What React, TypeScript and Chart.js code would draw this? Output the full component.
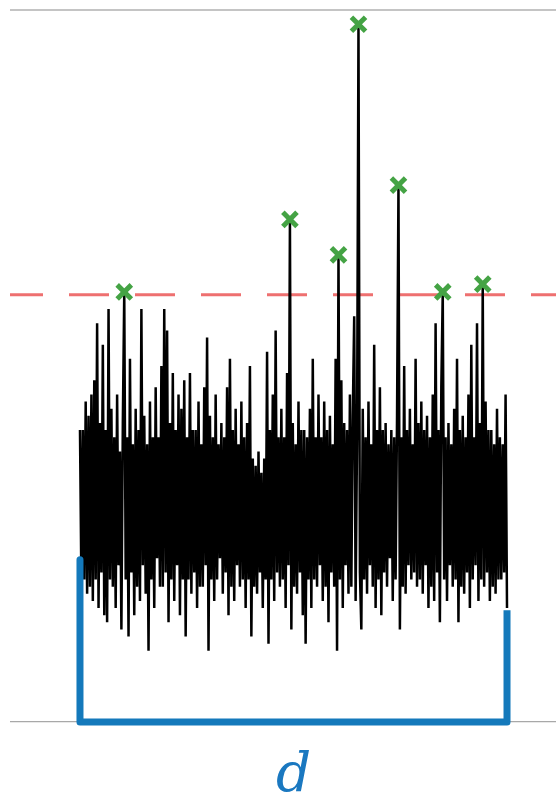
import React, { useEffect, useRef } from "react";
import { Chart, registerables } from "chart.js";

Chart.register(...registerables);

// Noisy signal amplitude, one value per sample
const signal: number[] = [
  4.1, 1.9, 4.1, 2.0, 4.5, 1.8, 4.3, 1.9, 4.6, 1.7,
  4.8, 2.0, 5.6, 1.6, 4.2, 2.1, 5.3, 1.5, 4.1, 1.4,
  5.8, 2.0, 4.4, 1.9, 4.0, 1.6, 4.6, 2.2, 3.8, 1.3,
  4.2, 6.04, 2.0, 4.0, 1.2, 5.1, 2.1, 3.9, 1.5, 4.4,
  1.9, 4.1, 1.7, 5.8, 2.2, 4.3, 1.8, 3.9, 1.0, 4.5,
  2.0, 4.0, 1.6, 4.7, 2.3, 4.0, 1.9, 5.0, 1.9, 5.8,
  2.1, 5.5, 1.4, 4.2, 2.0, 4.9, 1.7, 4.1, 2.2, 4.6,
  1.5, 4.4, 2.0, 4.8, 1.2, 4.0, 2.0, 4.9, 1.8, 4.1,
  2.1, 4.1, 1.6, 4.5, 1.9, 3.9, 1.9, 4.7, 2.2, 5.4,
  1.0, 4.3, 2.0, 4.0, 1.7, 4.6, 2.0, 3.9, 2.3, 4.2,
  1.8, 4.0, 2.1, 4.7, 1.5, 5.1, 1.9, 4.1, 1.7, 4.4,
  2.2, 3.9, 1.9, 4.5, 2.0, 4.0, 1.6, 4.2, 2.0, 5.0,
  1.2, 3.7, 1.9, 3.6, 1.8, 3.8, 2.1, 3.5, 1.6, 3.7,
  2.0, 5.2, 1.1, 4.1, 2.0, 4.6, 1.7, 5.5, 2.1, 4.0,
  1.9, 4.4, 2.0, 4.0, 1.6, 4.9, 2.2, 7.06, 1.3, 4.2,
  1.9, 3.9, 1.8, 4.5, 2.1, 4.1, 1.5, 4.1, 1.1, 4.0,
  2.0, 4.4, 1.6, 5.1, 2.0, 4.0, 1.9, 4.6, 2.2, 4.0,
  1.7, 4.5, 1.9, 4.1, 1.4, 4.3, 2.1, 3.9, 1.9, 5.1,
  1.0, 6.56, 2.0, 4.8, 1.6, 4.2, 2.2, 4.1, 1.8, 4.6,
  1.9, 4.3, 5.7, 1.7, 4.0, 9.8, 2.1, 1.3, 4.4, 2.0,
  4.0, 1.8, 4.5, 2.2, 3.9, 1.9, 5.3, 1.6, 4.1, 2.0,
  4.7, 1.5, 4.1, 2.1, 4.2, 1.9, 3.9, 2.3, 4.1, 1.7,
  4.0, 2.0, 4.3, 7.54, 1.3, 4.0, 1.9, 5.0, 1.8, 4.1,
  2.2, 4.4, 2.0, 3.9, 2.1, 5.1, 1.9, 4.2, 2.0, 4.5,
  1.8, 4.1, 2.2, 4.3, 1.6, 4.0, 1.9, 4.6, 1.7, 5.6,
  2.1, 4.1, 1.4, 4.7, 6.04, 2.0, 4.0, 1.7, 4.2, 2.2,
  3.9, 1.9, 4.4, 2.0, 5.1, 1.4, 4.1, 1.9, 4.3, 1.8,
  4.0, 2.1, 4.6, 1.6, 5.3, 2.0, 4.0, 2.2, 5.6, 1.7,
  4.2, 2.0, 6.15, 1.9, 4.5, 2.1, 4.1, 1.7, 4.1, 1.9,
  3.9, 1.8, 4.4, 2.0, 4.0, 2.0, 3.9, 2.1, 4.6, 1.6,
];

// Indices of detected peaks above the threshold
const peakIndices: number[] = [31, 147, 181, 195, 223, 254, 282];

// Detection threshold
const threshold: number[] = [6];

// Bracket marking span d: [sample index, level]
const bracketX: number[] = [0, 0, 299, 299];
const bracketY: number[] = [2.28, 0, 0, 1.57];

// Axis ranges
const xRange: number[] = [-49, 333.3];
const yRange: number[] = [0, 10];

const spanLabel = "d";
const spanLabelIndex = 149.5;

export default function App() {
  const ref = useRef<HTMLCanvasElement | null>(null);

  useEffect(() => {
    if (!ref.current) return;

    const labelPlugin = {
      id: "spanLabel",
      afterDraw(chart: any) {
        const { ctx, chartArea, scales } = chart;
        const x = scales.x.getPixelForValue(spanLabelIndex);
        ctx.save();
        ctx.font = "italic 55px 'DejaVu Serif', 'Liberation Serif', serif";
        ctx.fillStyle = "#1a78c0";
        ctx.textAlign = "center";
        ctx.textBaseline = "alphabetic";
        ctx.fillText(spanLabel, x, chartArea.bottom + 69);
        ctx.restore();
      },
    };

    const chart = new Chart(ref.current, {
      type: "line",
      data: {
        datasets: [
          {
            type: "scatter",
            label: "peaks",
            data: peakIndices.map((i) => ({ x: i, y: signal[i] })),
            pointStyle: "crossRot",
            pointRadius: 10,
            pointBorderWidth: 5,
            pointBorderColor: "#44a344",
            pointBackgroundColor: "#44a344",
            showLine: false,
            order: 0,
            clip: false,
          } as any,
          {
            label: "bracket",
            data: bracketX.map((x, k) => ({ x, y: bracketY[k] })),
            borderColor: "#1479bb",
            borderWidth: 7,
            borderJoinStyle: "round",
            pointRadius: 0,
            fill: false,
            tension: 0,
            order: 1,
            clip: false,
          } as any,
          {
            label: "signal",
            data: signal.map((v, i) => ({ x: i, y: v })),
            borderColor: "#000000",
            borderWidth: 2.5,
            pointRadius: 0,
            fill: false,
            tension: 0,
            order: 2,
          } as any,
          {
            label: "threshold",
            data: [
              { x: xRange[0], y: threshold[0] },
              { x: xRange[1], y: threshold[0] },
            ],
            borderColor: "rgba(236,96,96,0.9)",
            borderWidth: 3,
            borderDash: [40, 26],
            borderDashOffset: 7,
            pointRadius: 0,
            fill: false,
            order: 3,
          } as any,
        ],
      },
      options: {
        animation: false,
        responsive: true,
        maintainAspectRatio: false,
        layout: { autoPadding: false, padding: { left: 10, right: 0, top: 10, bottom: 76 } },
        plugins: {
          legend: { display: false },
          tooltip: { enabled: false },
          title: { display: false },
        },
        scales: {
          x: {
            type: "linear",
            min: xRange[0],
            max: xRange[1],
            display: false,
          },
          y: {
            type: "linear",
            min: yRange[0],
            max: yRange[1],
            display: true,
            afterBuildTicks: (axis: any) => {
              axis.ticks = [{ value: yRange[0] }, { value: yRange[1] }];
            },
            ticks: { display: false },
            border: { display: false },
            grid: {
              drawTicks: false,
              color: (c: any) => (c.tick && c.tick.value === yRange[1] ? "#c4c4c4" : "#a8a8a8"),
              lineWidth: (c: any) => (c.tick && c.tick.value === yRange[1] ? 2 : 1.2),
            },
          },
        },
      },
      plugins: [labelPlugin],
    });

    return () => chart.destroy();
  }, []);

  return (
    <div style={{ position: "fixed", left: 0, top: 0, width: 556, height: 798, background: "#fff" }}>
      <canvas ref={ref} />
    </div>
  );
}
